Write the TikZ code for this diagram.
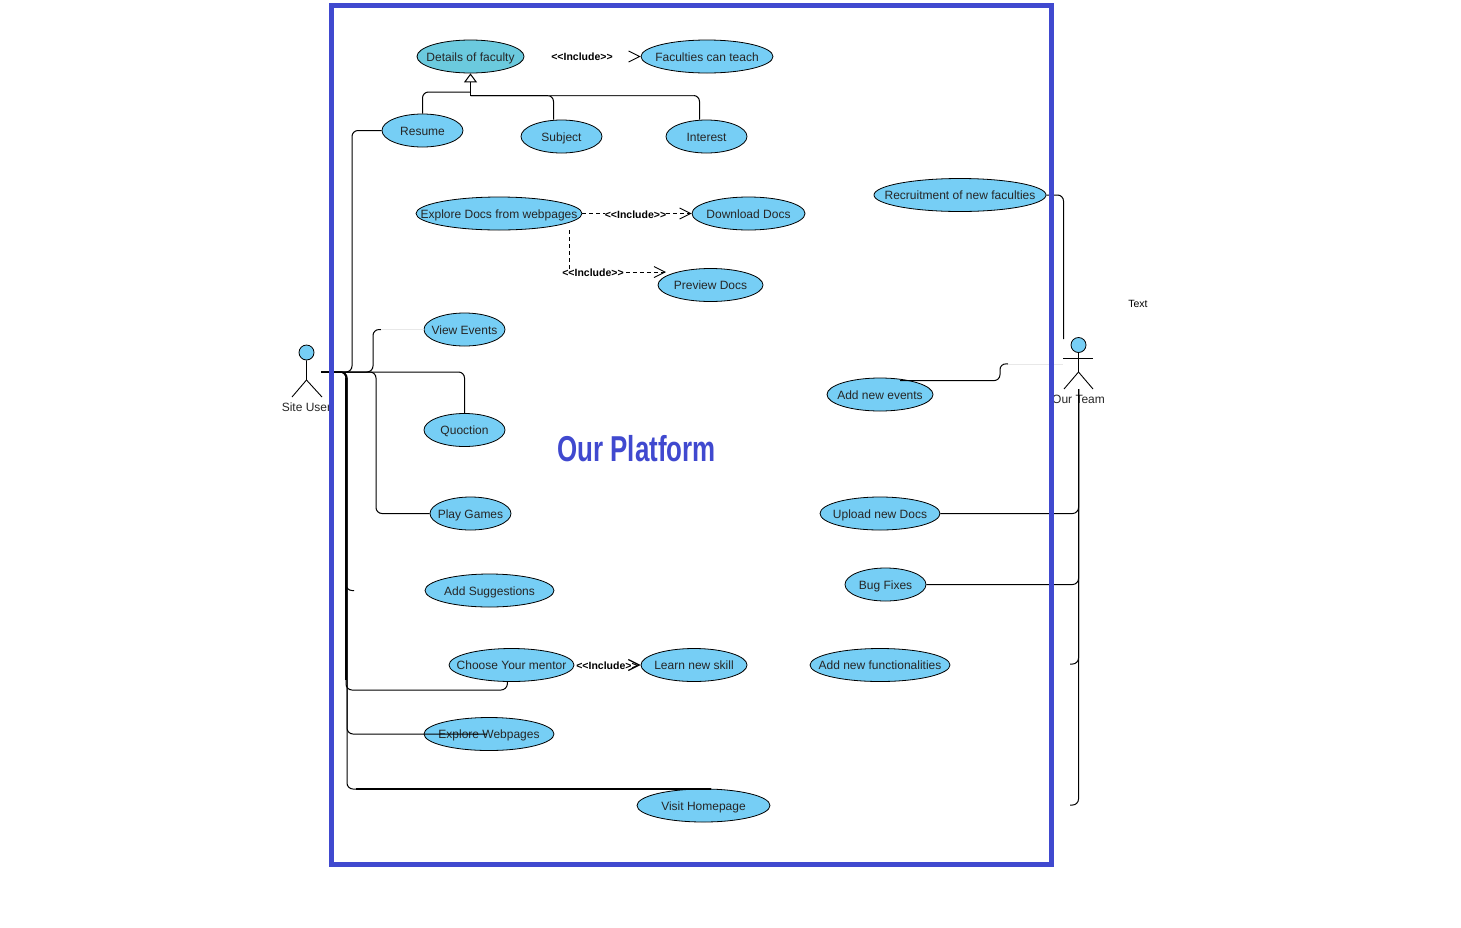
\documentclass[tikz,border=0pt]{standalone}
\usepackage{fontspec}
\setmainfont{Liberation Sans}
\newfontfamily\titlefont[FakeStretch=0.72]{Liberation Sans}
\usetikzlibrary{shapes.geometric, arrows.meta}
\definecolor{ucblue}{HTML}{76CEF5}
\definecolor{uctop}{HTML}{6BCADE}
\definecolor{framblue}{HTML}{4049CF}
\definecolor{fadeline}{HTML}{E8E8E8}
\newcommand{\ctext}[1]{\makebox[0pt]{\rule[-3pt]{0pt}{15.6pt}#1}}
\newcommand{\incltext}{<{}<Include>{}>}
\tikzset{
    usecase/.style={ellipse, draw=black, line width=0.8pt, fill=ucblue, inner sep=0pt,
                    minimum width=81pt, minimum height=33pt, text=black!85,
                    font=\fontsize{12}{14}\selectfont},
    wire/.style={line width=1pt, rounded corners=6pt},
    heavywire/.style={line width=1.8pt},
    fadedwire/.style={line width=0.9pt, fadeline},
    genarrow/.style={wire, -{Triangle[open, length=9pt, width=13pt]}},
    incarrow/.style={line width=0.9pt, dash pattern=on 4pt off 3pt, -{Straight Barb[length=11pt, width=11pt]}},
    tiponly/.style={incarrow, dash pattern=on 0pt off 200pt},
    inclabel/.style={font=\fontsize{10.5}{12}\bfseries\selectfont, inner sep=0pt},
    actorhead/.style={circle, draw=black, line width=0.8pt, fill=ucblue, inner sep=0pt, minimum size=15pt},
    stick/.style={line width=0.9pt},
    actorlabel/.style={font=\fontsize{12}{14}\selectfont, text=black!85, inner sep=0pt},
}
\begin{document}
\begin{tikzpicture}[x=1pt, y=-1pt]
    \useasboundingbox (0,0) rectangle (1461,927);

    % use cases of the site user
    \node[usecase, fill=uctop, minimum width=107pt] (details) at (470.5,56.5) {\ctext{Details of faculty}};
    \node[usecase, minimum width=132pt] (faculties) at (707,56.5) {\ctext{Faculties can teach}};
    \node[usecase] (resume) at (422.5,130.5) {\ctext{Resume}};
    \node[usecase] (subject) at (561.5,136.5) {\ctext{Subject}};
    \node[usecase] (interest) at (706.5,136.5) {\ctext{Interest}};
    \node[usecase, minimum width=166pt] (exploredocs) at (499,213.5) {\ctext{Explore Docs from webpages}};
    \node[usecase, minimum width=113pt] (download) at (748.5,213.5) {\ctext{Download Docs}};
    \node[usecase, minimum width=105pt] (preview) at (710.5,285) {\ctext{Preview Docs}};
    \node[usecase] (viewevents) at (464.5,329.5) {\ctext{View Events}};
    \node[usecase] (quoction) at (464.5,430) {\ctext{Quoction}};
    \node[usecase] (playgames) at (470.5,513.5) {\ctext{Play Games}};
    \node[usecase, minimum width=129pt] (suggestions) at (489.5,590.5) {\ctext{Add Suggestions}};
    \node[usecase, minimum width=125pt] (mentor) at (511.5,665) {\ctext{Choose Your mentor}};
    \node[usecase, minimum width=106pt] (skill) at (694,665) {\ctext{Learn new skill}};
    \node[usecase, minimum width=130pt] (webpages) at (489,734) {\ctext{Explore Webpages}};
    \node[usecase, minimum width=133pt] (homepage) at (703.5,805.5) {\ctext{Visit Homepage}};

    % use cases of the team
    \node[usecase, minimum width=172pt] (recruit) at (960,195) {\ctext{Recruitment of new faculties}};
    \node[usecase, minimum width=106pt] (addevents) at (880,394.5) {\ctext{Add new events}};
    \node[usecase, minimum width=120pt] (upload) at (880,513.5) {\ctext{Upload new Docs}};
    \node[usecase] (bugfixes) at (885.5,584.5) {\ctext{Bug Fixes}};
    \node[usecase, minimum width=140pt] (functions) at (880,665) {\ctext{Add new functionalities}};

    \node[font=\titlefont\fontsize{36}{40}\bfseries\selectfont, text=framblue, inner sep=0pt] (title) at (636.5,449) {Our Platform};
    \node[font=\fontsize{10.5}{12}\selectfont, inner sep=0pt] (textlabel) at (1138,304) {Text};

    % actors
    \node[actorhead] (userhead) at (306.5,352.5) {};
    \node[actorlabel] (userlabel) at (306.5,407.5) {Site User};
    \coordinate (userhip) at (306.5,380);
    \coordinate (userhand) at (321,372);
    \draw[stick] (userhead) -- (userhip) -- (292,397);
    \draw[stick] (userhip) -- (322,397);

    \node[actorhead] (teamhead) at (1078.5,345) {};
    \node[actorlabel] (teamlabel) at (1078.5,399.5) {Our Team};
    \coordinate (teamhip) at (1078.5,372);
    \coordinate (teamfoot) at (1078.5,389);
    \draw[stick] (teamhead) -- (teamhip) -- (1064,389);
    \draw[stick] (teamhip) -- (1093,389);
    \draw[stick] (1063,358) -- (1093,358);

    % site user wires
    \coordinate (viewturn) at (381,329.5);
    \coordinate (suggestend) at (354,590.5);
    \coordinate (mentorturn) at (507,690);
    \coordinate (webpagesend) at (487,734);
    \coordinate (homepageturn) at (356,789);
    \coordinate (homepageend) at (711,789);
    \coordinate (heavytop) at (346,378);
    \coordinate (heavyend) at (346,680);
    \draw[wire] (userhand) -- ++(31,0) |- (resume.west);
    \draw[wire] (userhand) -- ++(52,0) |- (viewturn);
    \draw[fadedwire] (viewturn) -- (viewevents.west);
    \draw[wire] (userhand) -| (quoction.north);
    \draw[wire] (userhand) -- ++(55,0) |- (playgames.west);
    \draw[wire] (userhand) -- ++(25,0) |- (suggestend);
    \draw[heavywire] (heavytop) -- (heavyend);
    \draw[wire] (userhand) -- ++(25,0) |- (mentorturn) -- ([xshift=-4pt]mentor.south);
    \draw[wire] (userhand) -- ++(26,0) |- (webpagesend);
    \draw[wire] (userhand) -- ++(26,0) |- (homepageend);
    \draw[heavywire] (homepageturn) -- (homepageend);

    % generalisations
    \coordinate (genjoin) at (470.5,92);
    \coordinate (genjointwo) at (470.5,95.5);
    \coordinate (subjectturn) at (548,95.5);
    \coordinate (interestturn) at (694,95.5);
    \draw[wire] (resume.north) |- (genjoin);
    \draw[wire] ([xshift=-8pt]subject.north) |- (genjointwo);
    \draw[wire] ([xshift=-7pt]interest.north) |- (genjointwo);
    \draw[heavywire, black!80] (genjointwo) -- (interestturn);
    \draw[heavywire] (genjointwo) -- (subjectturn);
    \draw[genarrow] (genjointwo) -- (details.south);

    % includes
    \draw[tiponly] (details) -- (faculties);
    \node[inclabel] (inclone) at (582,56.5) {\incltext};
    \draw[incarrow] (exploredocs) -- (download);
    \node[inclabel, fill=white] (incltwo) at (635.5,215) {\incltext};
    \coordinate (previewtip) at (666,272);
    \draw[incarrow] ([xshift=70.5pt]exploredocs.south) |- (previewtip);
    \node[inclabel, fill=white] (inclthree) at (593,272.5) {\incltext};
    \draw[tiponly, line width=1.2pt] (mentor) -- (skill);
    \node[inclabel] (inclfour) at (607,665.5) {\incltext};

    % team wires
    \coordinate (recruitend) at (1063.5,339);
    \coordinate (eventsturn) at (1008,364);
    \coordinate (eventsend) at (1063,364);
    \coordinate (stubskills) at (1070,664);
    \coordinate (stubpage) at (1070,805);
    \draw[wire] (recruit.east) -| (recruitend);
    \draw[wire] ([shift={(20pt,-3pt)}]addevents.north) -- ++(100,0) -- ++(0,-17) -- (eventsturn);
    \draw[fadedwire] (eventsturn) -- (eventsend);
    \draw[wire] (upload.east) -| (teamfoot);
    \draw[wire] (bugfixes.east) -| (teamfoot);
    \draw[wire] (stubskills) -| (teamfoot);
    \draw[wire] (stubpage) -| (teamfoot);

    % platform frame
    \node[draw=framblue, line width=5pt, minimum width=720pt, minimum height=859pt, inner sep=0pt] (platform) at (691.5,435) {};
\end{tikzpicture}
\end{document}
